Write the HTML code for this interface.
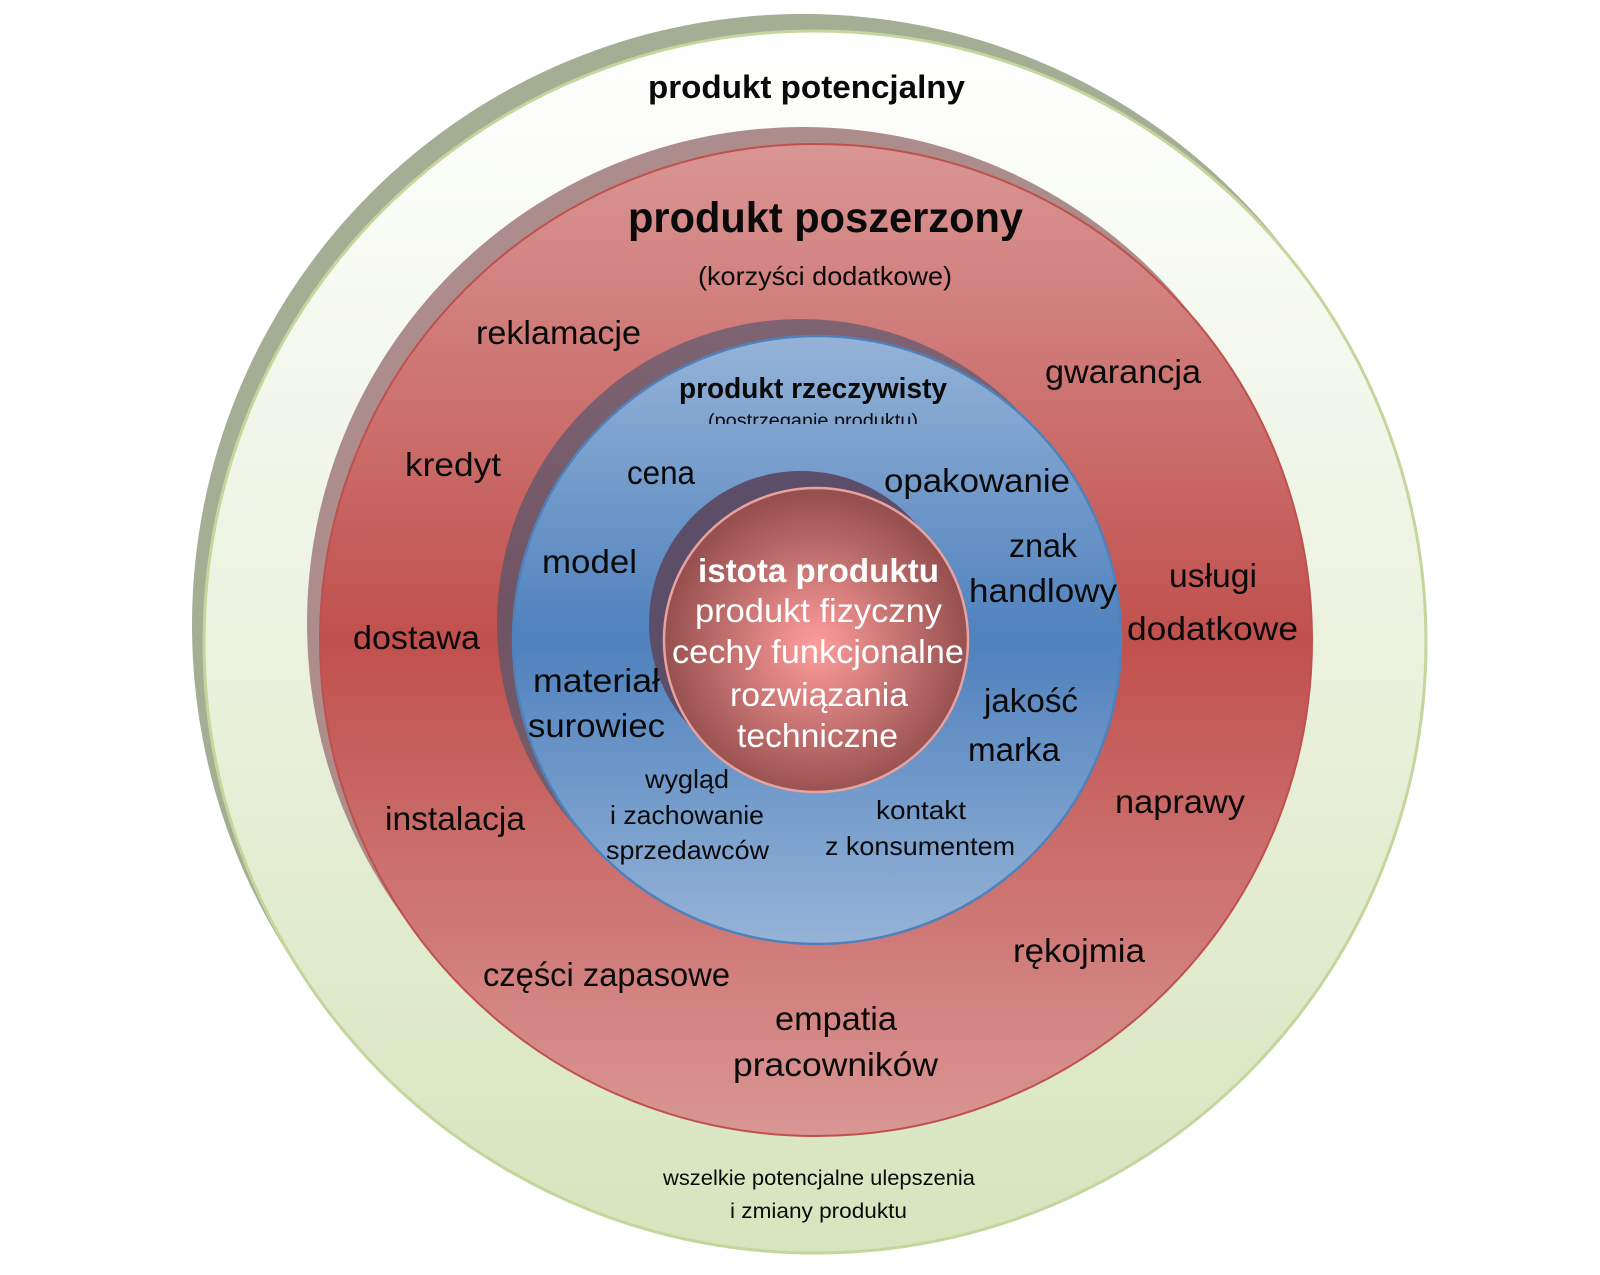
<!DOCTYPE html>
<html>
<head>
<meta charset="utf-8">
<style>
html,body{margin:0;padding:0;background:#ffffff;}
svg{display:block;}
text{font-family:"Liberation Sans","DejaVu Sans",sans-serif;}
.k{fill:#0a0a0a;}
.w{fill:#ffffff;}
.b{font-weight:bold;}
</style>
</head>
<body>
<svg width="1600" height="1275" viewBox="0 0 1600 1275" xmlns="http://www.w3.org/2000/svg">
<defs>
  <linearGradient id="gGreen" x1="0" y1="0" x2="0" y2="1">
    <stop offset="0" stop-color="#ffffff"/>
    <stop offset="1" stop-color="#d7e4bd"/>
  </linearGradient>
  <linearGradient id="gRed" x1="0" y1="0" x2="0" y2="1">
    <stop offset="0" stop-color="#d99694"/>
    <stop offset="0.5" stop-color="#c0504d"/>
    <stop offset="1" stop-color="#d99694"/>
  </linearGradient>
  <linearGradient id="gBlue" x1="0" y1="0" x2="0" y2="1">
    <stop offset="0" stop-color="#95b3d7"/>
    <stop offset="0.5" stop-color="#4f81bd"/>
    <stop offset="1" stop-color="#95b3d7"/>
  </linearGradient>
  <linearGradient id="gBlueSh" x1="0" y1="0" x2="0" y2="1">
    <stop offset="0" stop-color="#7e6473"/>
    <stop offset="0.5" stop-color="#6f5363"/>
    <stop offset="1" stop-color="#7e6473"/>
  </linearGradient>
  <radialGradient id="gInner" cx="0.5" cy="0.52" r="0.5">
    <stop offset="0" stop-color="#ff9d9b"/>
    <stop offset="1" stop-color="#96504f"/>
  </radialGradient>
  <clipPath id="clipPost">
    <rect x="600" y="395" width="420" height="29"/>
  </clipPath>
</defs>

<!-- outer green -->
<circle cx="803" cy="625" r="611" fill="#a4ae94"/>
<circle cx="815" cy="642" r="611" fill="url(#gGreen)" stroke="#c3d69b" stroke-width="3"/>

<!-- red -->
<circle cx="803" cy="623" r="496" fill="#ac8d8b"/>
<circle cx="816" cy="640" r="496" fill="url(#gRed)" stroke="#c0504d" stroke-width="2"/>

<!-- blue -->
<circle cx="801" cy="623" r="304" fill="url(#gBlueSh)"/>
<circle cx="817" cy="640" r="304" fill="url(#gBlue)" stroke="#4f81bd" stroke-width="2.5"/>

<!-- inner -->
<circle cx="801" cy="623" r="152" fill="#5c4d69"/>
<circle cx="816" cy="640" r="152" fill="url(#gInner)" stroke="#e6a3a0" stroke-width="2.5"/>

<!-- outer ring text -->
<text class="k b" x="648" y="98" font-size="32" textLength="317" lengthAdjust="spacingAndGlyphs">produkt potencjalny</text>
<text class="k" x="663" y="1185" font-size="21" textLength="312" lengthAdjust="spacingAndGlyphs">wszelkie potencjalne ulepszenia</text>
<text class="k" x="730" y="1218" font-size="21" textLength="177" lengthAdjust="spacingAndGlyphs">i zmiany produktu</text>

<!-- red ring text -->
<text class="k b" x="628" y="232" font-size="43" textLength="395" lengthAdjust="spacingAndGlyphs">produkt poszerzony</text>
<text class="k" x="698" y="285" font-size="26" textLength="254" lengthAdjust="spacingAndGlyphs">(korzyści dodatkowe)</text>
<text class="k" x="476" y="344" font-size="33" textLength="165" lengthAdjust="spacingAndGlyphs">reklamacje</text>
<text class="k" x="1045" y="383" font-size="33" textLength="156" lengthAdjust="spacingAndGlyphs">gwarancja</text>
<text class="k" x="405" y="476" font-size="33" textLength="96" lengthAdjust="spacingAndGlyphs">kredyt</text>
<text class="k" x="1169" y="587" font-size="33" textLength="88" lengthAdjust="spacingAndGlyphs">usługi</text>
<text class="k" x="1127" y="640" font-size="33" textLength="171" lengthAdjust="spacingAndGlyphs">dodatkowe</text>
<text class="k" x="353" y="649" font-size="33" textLength="127" lengthAdjust="spacingAndGlyphs">dostawa</text>
<text class="k" x="385" y="830" font-size="33" textLength="140" lengthAdjust="spacingAndGlyphs">instalacja</text>
<text class="k" x="1115" y="813" font-size="33" textLength="130" lengthAdjust="spacingAndGlyphs">naprawy</text>
<text class="k" x="483" y="986" font-size="33" textLength="247" lengthAdjust="spacingAndGlyphs">części zapasowe</text>
<text class="k" x="1013" y="962" font-size="33" textLength="132" lengthAdjust="spacingAndGlyphs">rękojmia</text>
<text class="k" x="775" y="1030" font-size="33" textLength="122" lengthAdjust="spacingAndGlyphs">empatia</text>
<text class="k" x="733" y="1076" font-size="33" textLength="205" lengthAdjust="spacingAndGlyphs">pracowników</text>

<!-- blue ring text -->
<text class="k b" x="679" y="398" font-size="29" textLength="268" lengthAdjust="spacingAndGlyphs">produkt rzeczywisty</text>
<g clip-path="url(#clipPost)">
<text class="k" x="708" y="427" font-size="19" textLength="210" lengthAdjust="spacingAndGlyphs">(postrzeganie produktu)</text>
</g>
<text class="k" x="627" y="484" font-size="33" textLength="68" lengthAdjust="spacingAndGlyphs">cena</text>
<text class="k" x="884" y="492" font-size="33" textLength="186" lengthAdjust="spacingAndGlyphs">opakowanie</text>
<text class="k" x="542" y="573" font-size="33" textLength="95" lengthAdjust="spacingAndGlyphs">model</text>
<text class="k" x="1009" y="557" font-size="33" textLength="68" lengthAdjust="spacingAndGlyphs">znak</text>
<text class="k" x="969" y="602" font-size="33" textLength="148" lengthAdjust="spacingAndGlyphs">handlowy</text>
<text class="k" x="533" y="692" font-size="33" textLength="127" lengthAdjust="spacingAndGlyphs">materiał</text>
<text class="k" x="528" y="737" font-size="33" textLength="137" lengthAdjust="spacingAndGlyphs">surowiec</text>
<text class="k" x="984" y="712" font-size="33" textLength="94" lengthAdjust="spacingAndGlyphs">jakość</text>
<text class="k" x="968" y="761" font-size="33" textLength="92" lengthAdjust="spacingAndGlyphs">marka</text>
<text class="k" x="645" y="788" font-size="26" textLength="84" lengthAdjust="spacingAndGlyphs">wygląd</text>
<text class="k" x="610" y="824" font-size="26" textLength="154" lengthAdjust="spacingAndGlyphs">i zachowanie</text>
<text class="k" x="606" y="859" font-size="26" textLength="163" lengthAdjust="spacingAndGlyphs">sprzedawców</text>
<text class="k" x="876" y="819" font-size="26" textLength="90" lengthAdjust="spacingAndGlyphs">kontakt</text>
<text class="k" x="825" y="855" font-size="26" textLength="190" lengthAdjust="spacingAndGlyphs">z konsumentem</text>

<!-- inner text -->
<text class="w b" x="698" y="582" font-size="33" textLength="241" lengthAdjust="spacingAndGlyphs">istota produktu</text>
<text class="w" x="695" y="622" font-size="33" textLength="247" lengthAdjust="spacingAndGlyphs">produkt fizyczny</text>
<text class="w" x="672" y="663" font-size="33" textLength="292" lengthAdjust="spacingAndGlyphs">cechy funkcjonalne</text>
<text class="w" x="730" y="706" font-size="33" textLength="178" lengthAdjust="spacingAndGlyphs">rozwiązania</text>
<text class="w" x="737" y="747" font-size="33" textLength="161" lengthAdjust="spacingAndGlyphs">techniczne</text>
</svg>
</body>
</html>
